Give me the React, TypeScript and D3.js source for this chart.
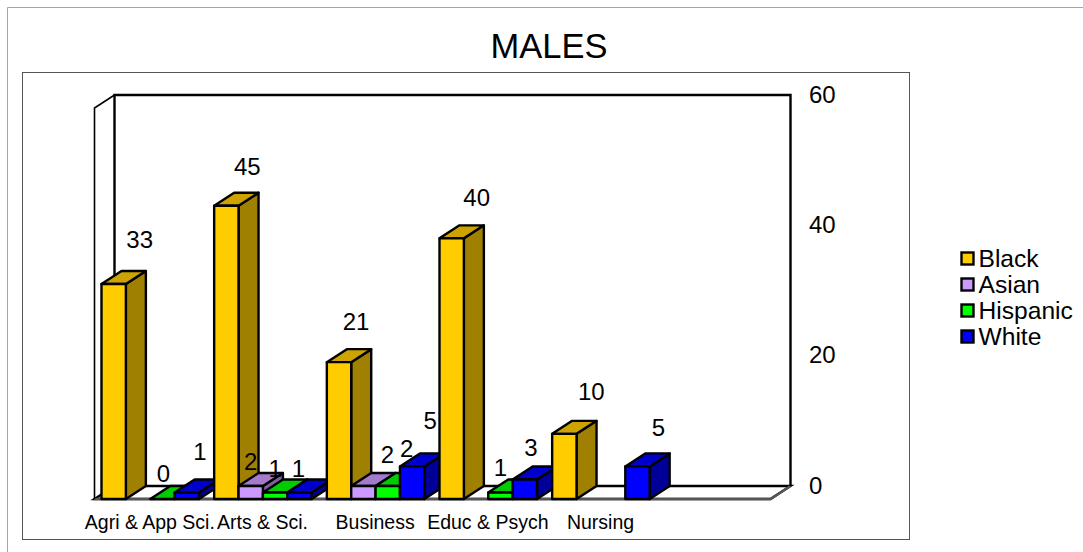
import React from "react";
import * as d3 from "d3";

const categories = ["Agri & App Sci.", "Arts & Sci.", "Business", "Educ & Psych", "Nursing", ""];
const seriesNames = ["Black", "Asian", "Hispanic", "White"];
const black: (number | null)[] = [33, 45, 21, 40, 10, null];
const asian: (number | null)[] = [null, 2, 2, null, null, null];
const hispanic: (number | null)[] = [0, 1, 2, 1, null, null];
const white: (number | null)[] = [1, 1, 5, 3, 5, null];
const yTicks = [0, 20, 40, 60];

const front = ["#FFCC00", "#CC99FF", "#00FF00", "#0000FF"];
const top = ["#CCA300", "#A37ACC", "#00CC00", "#0000CC"];
const side = ["#A08000", "#7F5FA0", "#009900", "#000099"];

// label nudges relative to the bar's top-centre, [series][category]
const labelDx = [
  [26, 21, 17, 25, 27, 0],
  [0, 0, 24, 0, 0, 0],
  [1, 0, 19, 0, 0, 0],
  [13, -1, 18, 6, 21, 0],
];
const labelDy = [
  [-44, -39, -41, -41, -42, 0],
  [0, -24, -31, 0, 0, 0],
  [-26, -24, -37, -25, 0, 0],
  [-41, -24, -46, -32, -39, 0],
];

const DX = 20;
const DY = -13;
const FONT = "'Liberation Sans', Arial, sans-serif";

export default function App() {
  const series = [black, asian, hispanic, white];
  const x = d3.scaleBand<number>().domain(d3.range(categories.length)).range([94.5, 770.5]);
  const s = d3.scaleBand<number>().domain(d3.range(4)).range([7, 104.5]);
  const y = d3.scaleLinear().domain([0, 60]).range([499, 108]);
  const yBack = d3.scaleLinear().domain([0, 60]).range([486, 95]);
  const ly = d3.scaleBand<number>().domain(d3.range(4)).range([246, 350]);
  const line = d3.line();

  const bars: React.ReactNode[] = [];
  categories.forEach((_, c) => {
    series.forEach((vals, i) => {
      const v = vals[c];
      if (v === null) return;
      const x0 = x(c)! + s(i)!;
      const x1 = x0 + s.bandwidth();
      const yt = y(v);
      const yb = y(0);
      const st = { stroke: "#000", strokeWidth: 2.4, strokeLinejoin: "round" as const };
      bars.push(
        <g key={`${c}-${i}`}>
          <path d={line([[x1, yb], [x1 + DX, yb + DY], [x1 + DX, yt + DY], [x1, yt]])! + "Z"} fill={side[i]} {...st} />
          <path d={line([[x0, yt], [x0 + DX, yt + DY], [x1 + DX, yt + DY], [x1, yt]])! + "Z"} fill={top[i]} {...st} />
          <rect x={x0} y={yt} width={x1 - x0} height={yb - yt} fill={front[i]} {...st} />
        </g>
      );
    });
  });

  const labels: React.ReactNode[] = [];
  categories.forEach((_, c) => {
    series.forEach((vals, i) => {
      const v = vals[c];
      if (v === null) return;
      const cx = x(c)! + s(i)! + s.bandwidth() / 2 + labelDx[i][c];
      const cy = y(v) + labelDy[i][c];
      labels.push(
        <text key={`${c}-${i}`} x={cx} y={cy} textAnchor="middle" dominantBaseline="central" fontSize={24} fontFamily={FONT} fill="#000">
          {v}
        </text>
      );
    });
  });

  return (
    <svg width={1083} height={552} style={{ position: "absolute", left: 0, top: 0, display: "block" }}>
      <rect x={0} y={0} width={1083} height={552} fill="#fff" />
      <path d="M7.5,552V7.5H1083" fill="none" stroke="#a6a6a6" strokeWidth={1} />
      <rect x={22.5} y={72.5} width={887} height={467} fill="#fff" stroke="#555" strokeWidth={1} />
      <text x={549} y={46} dominantBaseline="central" textAnchor="middle" fontSize={34.5} fontFamily={FONT} fill="#000">MALES</text>

      <path d={line([[x.range()[0], y(0)], [x.range()[0] + DX, yBack(0)], [x.range()[1] + DX, yBack(0)], [x.range()[1], y(0)]])! + "Z"} fill="#fff" stroke="#000" strokeWidth={2.4} />
      <path d={line([[x.range()[0], y(0)], [x.range()[1], y(0)], [x.range()[1] + DX, yBack(0)]])!} fill="none" stroke="#555" strokeWidth={2.4} />
      <path d={line([[x.range()[0] + DX, yBack(0)], [x.range()[0] + DX, yBack(60)], [x.range()[1] + DX, yBack(60)], [x.range()[1] + DX, yBack(0)]])!} fill="none" stroke="#000" strokeWidth={2.4} />
      <path d={line([[x.range()[0], y(0)], [x.range()[0], y(60)], [x.range()[0] + DX, yBack(60)]])!} fill="none" stroke="#000" strokeWidth={1.6} />

      {yTicks.map((t) => (
        <text key={t} x={809} y={yBack(t) - 1} dominantBaseline="central" fontSize={24} fontFamily={FONT} fill="#000">{t}</text>
      ))}
      {bars}
      {labels}
      {categories.map((c, i) => (
        <text key={i} x={x(i)! + x.bandwidth() / 2 - 1} y={522} dominantBaseline="central" textAnchor="middle" fontSize={19.5} fontFamily={FONT} fill="#000">{c}</text>
      ))}
      {seriesNames.map((n, i) => (
        <g key={n}>
          <rect x={961.5} y={ly(i)! + 6.5} width={12} height={12} fill={front[i]} stroke="#000" strokeWidth={2.4} />
          <text x={978.5} y={ly(i)! + 12} dominantBaseline="central" fontSize={24.6} fontFamily={FONT} fill="#000">{n}</text>
        </g>
      ))}
    </svg>
  );
}
